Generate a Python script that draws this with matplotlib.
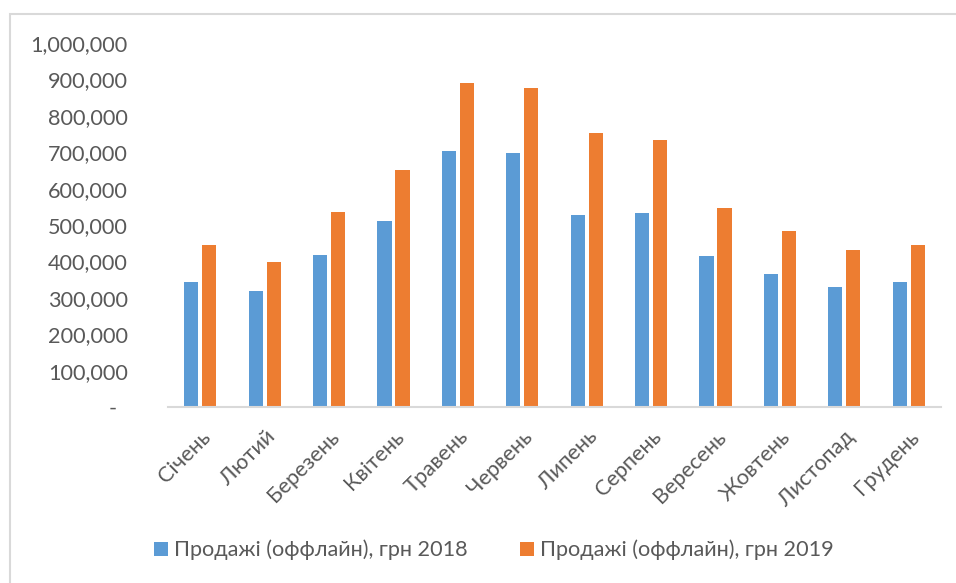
import numpy as np
import matplotlib.pyplot as plt
from matplotlib.ticker import FuncFormatter, MultipleLocator
from matplotlib.patches import Rectangle

plt.rcParams['font.family'] = ['Lato', 'Noto Sans', 'DejaVu Sans']

months = ['Січень', 'Лютий', 'Березень', 'Квітень', 'Травень', 'Червень',
          'Липень', 'Серпень', 'Вересень', 'Жовтень', 'Листопад', 'Грудень']
sales_2018 = [344000, 320000, 418000, 511000, 702000, 699000,
              527000, 533000, 416000, 366000, 330000, 343000]
sales_2019 = [445000, 397000, 536000, 651000, 890000, 876000,
              753000, 733000, 548000, 484000, 430000, 444000]
series_names = ['Продажі (оффлайн), грн 2018', 'Продажі (оффлайн), грн 2019']

blue = '#5B9BD5'
orange = '#ED7D31'
text_grey = '#595959'
line_grey = '#D9D9D9'
fs = 15.6

fig = plt.figure(figsize=(9.56, 5.83), dpi=100)
ax = fig.add_axes([168 / 956, 1 - 407 / 583, (941 - 168) / 956, (407 - 43) / 583])

x = np.arange(len(months))
w = 0.22
b1 = ax.bar(x - 0.14, sales_2018, w, color=blue, label=series_names[0])
b2 = ax.bar(x + 0.14, sales_2019, w, color=orange, label=series_names[1])

ax.set_xlim(-0.5, len(months) - 0.5)
ax.set_ylim(0, 1000000)
ax.yaxis.set_major_locator(MultipleLocator(100000))


def fmt(v, pos):
    if v == 0:
        return '-  '
    return f'{int(v):,}'


ax.yaxis.set_major_formatter(FuncFormatter(fmt))
ax.tick_params(axis='y', length=0, pad=29, labelsize=fs, labelcolor=text_grey)
ax.set_xticks(x)
ax.set_xticklabels(months, rotation=45, ha='right', va='top',
                   rotation_mode='anchor', fontsize=fs, color=text_grey)
ax.tick_params(axis='x', length=0, pad=14)

for s in ['top', 'right', 'left']:
    ax.spines[s].set_visible(False)
ax.spines['bottom'].set_color(line_grey)
ax.spines['bottom'].set_linewidth(1.5)

# chart frame
fig.patches.append(Rectangle((10 / 956, -0.1), 1.2, 1 - 14 / 583 + 0.1,
                             transform=fig.transFigure, fill=False,
                             edgecolor=line_grey, linewidth=1.5))

leg = fig.legend(handles=[b1, b2], loc='center', bbox_to_anchor=(494 / 956, 1 - 550 / 583),
                 ncol=2, frameon=False, fontsize=fs, handlelength=0.64, handleheight=0.64,
                 handletextpad=0.3, columnspacing=2.4)
for t in leg.get_texts():
    t.set_color(text_grey)

fig.savefig('out.png', dpi=100)
